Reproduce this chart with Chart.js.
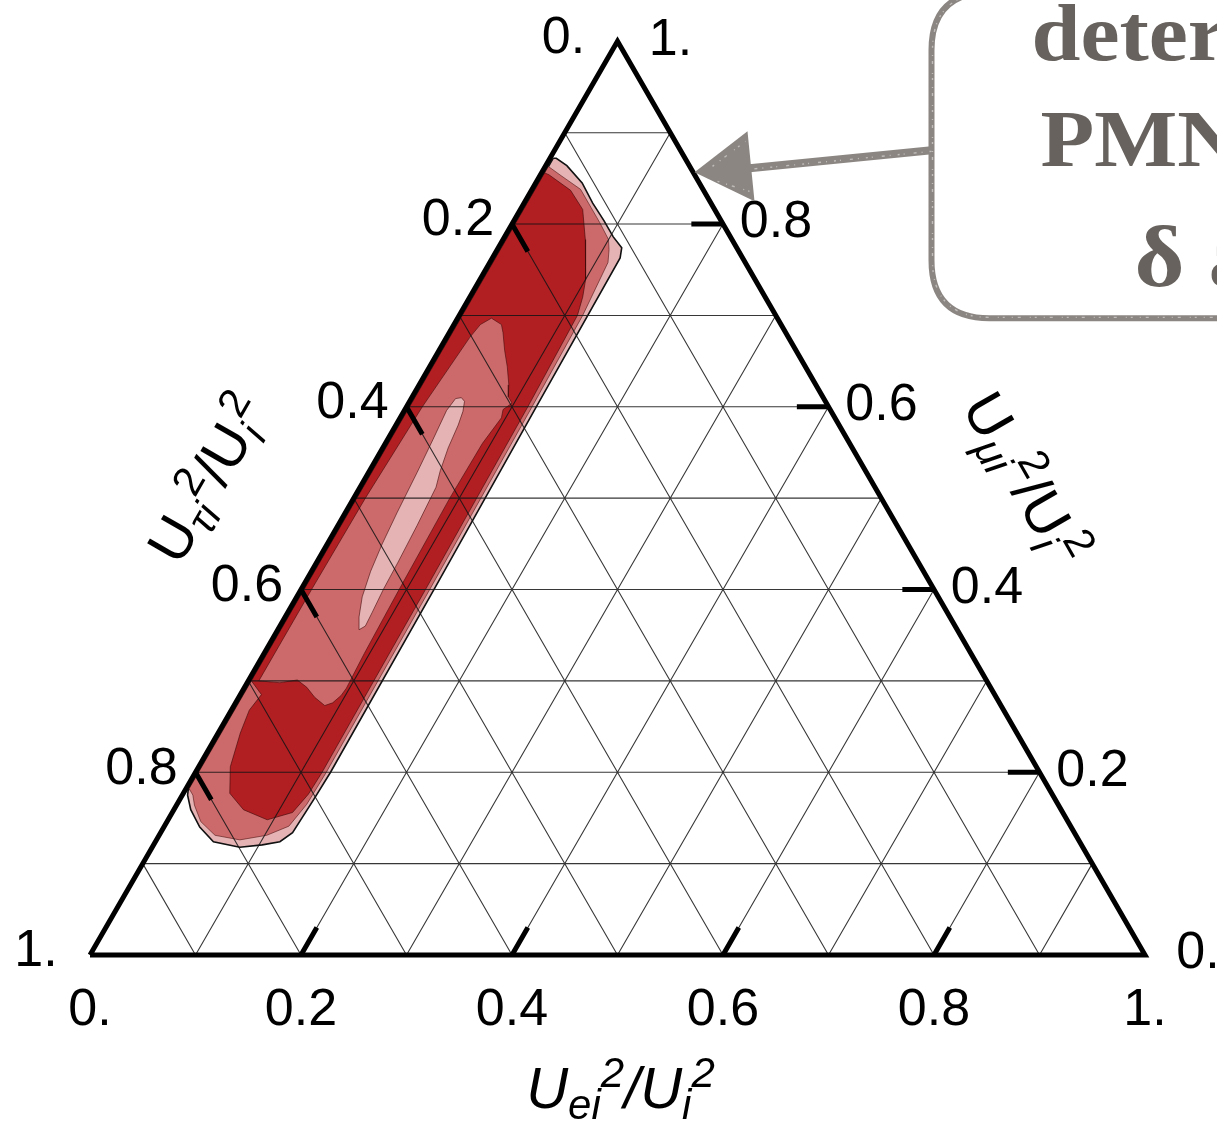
<!DOCTYPE html>
<html>
<head>
<meta charset="utf-8">
<script src="https://cdn.jsdelivr.net/npm/chart.js@4.4.1/dist/chart.umd.min.js"></script>
<style>
  html, body { margin: 0; padding: 0; background: #fff; }
  #wrap { width: 1217px; height: 1124px; }
</style>
</head>
<body>
<div id="wrap"><canvas id="ternary" width="1217" height="1124"></canvas></div>
<script>
// Ternary flavour plot: every point is [Uei^2/Ui^2, Uμi^2/Ui^2], Uτi^2/Ui^2 is the rest.

// --- axes ---
const tickValues = [0, 0.2, 0.4, 0.6, 0.8, 1];
const tickText = ['0.', '0.2', '0.4', '0.6', '0.8', '1.'];
const markedTicks = [0.2, 0.4, 0.6, 0.8];
const gridLevels = [0.1, 0.2, 0.3, 0.4, 0.5, 0.6, 0.7, 0.8, 0.9];
const tickLen = 0.03;

// --- allowed regions (outer band to inner island) ---
const bandLight = [
  [0.003, 0.872], [0.006, 0.872], [0.020, 0.864], [0.044, 0.845], [0.065, 0.823], [0.085, 0.804],
  [0.103, 0.786], [0.117, 0.774], [0.121, 0.763], [0.123, 0.60], [0.126, 0.40], [0.128, 0.20],
  [0.127, 0.170], [0.125, 0.134], [0.118, 0.124], [0.103, 0.1205], [0.083, 0.118], [0.055, 0.124],
  [0.034, 0.140], [0.016, 0.159], [0.005, 0.175], [0.003, 0.18]
];
const bandMid = [
  [0.003, 0.863], [0.020, 0.853], [0.046, 0.838], [0.066, 0.818], [0.083, 0.801], [0.100, 0.783],
  [0.106, 0.772], [0.112, 0.758], [0.117, 0.70], [0.119, 0.60], [0.122, 0.40], [0.124, 0.20],
  [0.123, 0.165], [0.118, 0.141], [0.102, 0.131], [0.079, 0.126], [0.053, 0.131], [0.032, 0.146],
  [0.017, 0.164], [0.010, 0.175], [0.003, 0.182]
];
const bandCore = [
  [0.003, 0.856], [0.008, 0.854], [0.037, 0.837], [0.059, 0.816], [0.078, 0.783], [0.090, 0.760],
  [0.100, 0.739], [0.107, 0.720], [0.112, 0.70], [0.115, 0.60], [0.118, 0.40], [0.120, 0.20],
  [0.119, 0.176], [0.114, 0.156], [0.094, 0.148], [0.066, 0.159], [0.044, 0.177], [0.030, 0.206],
  [0.021, 0.243], [0.017, 0.268], [0.020, 0.285], [0.003, 0.300]
];
const islandMid = [
  [0.032, 0.697], [0.045, 0.690], [0.051, 0.681], [0.062, 0.662], [0.0735, 0.644], [0.085, 0.624],
  [0.091, 0.611], [0.098, 0.604], [0.093, 0.597], [0.096, 0.588], [0.092, 0.560], [0.091, 0.50],
  [0.093, 0.40], [0.095, 0.33], [0.097, 0.292], [0.096, 0.284], [0.092, 0.276], [0.086, 0.273],
  [0.072, 0.282], [0.059, 0.293], [0.046, 0.301], [0.031, 0.298], [0.010, 0.300], [0.010, 0.40],
  [0.011, 0.50], [0.015, 0.60], [0.022, 0.676], [0.025, 0.690]
];
const islandLight = [
  [0.042, 0.609], [0.047, 0.610], [0.052, 0.606], [0.056, 0.595], [0.059, 0.580], [0.062, 0.555],
  [0.067, 0.530], [0.072, 0.512], [0.075, 0.470], [0.077, 0.430], [0.078, 0.400], [0.080, 0.375],
  [0.081, 0.360], [0.077, 0.356], [0.070, 0.370], [0.062, 0.392], [0.056, 0.420], [0.052, 0.450],
  [0.049, 0.484], [0.046, 0.528], [0.043, 0.564], [0.040, 0.596]
];

const pink = '#e5b3b4', rose = '#cc6a6b', crimson = '#b11f23';

const SQ = Math.sqrt(3) / 2;
function tern(p) { return { x: p[0] + p[1] / 2, y: p[1] * SQ }; }

function region(points, color, border, width, order) {
  const data = points.map(tern);
  data.push(data[0]);
  return {
    data, showLine: true, fill: 'shape', backgroundColor: color,
    borderColor: border, borderWidth: width, pointRadius: 0, tension: 0, order
  };
}

function segments(list) {
  const data = [];
  list.forEach(s => { data.push(tern(s[0]), tern(s[1]), { x: null, y: null }); });
  return data;
}

// grid: constant mu, constant e and constant tau lines
const gridSegs = [];
gridLevels.forEach(v => {
  gridSegs.push([[0, v], [1 - v, v]]);
  gridSegs.push([[v, 0], [v, 1 - v]]);
  gridSegs.push([[1 - v, 0], [0, 1 - v]]);
});

const tickSegs = [];
markedTicks.forEach(v => {
  tickSegs.push([[v, 0], [v, tickLen]]);
  tickSegs.push([[0, 1 - v], [tickLen, 1 - v - tickLen]]);
  tickSegs.push([[1 - v, v], [1 - v - tickLen, v]]);
});

const frame = [[0, 0], [1, 0], [0, 1], [0, 0]].map(tern);

function richText(ctx, parts, cx, cy, angle, size) {
  ctx.save();
  ctx.translate(cx, cy);
  ctx.rotate(angle);
  ctx.textAlign = 'left';
  ctx.textBaseline = 'alphabetic';
  let total = 0;
  const widths = parts.map(p => { ctx.font = p.font; const w = ctx.measureText(p.t).width; total += w; return w; });
  let x = -total / 2;
  const base = size * 0.36;
  parts.forEach((p, i) => {
    ctx.font = p.font;
    ctx.fillText(p.t, x, base + p.dy);
    x += widths[i];
  });
  ctx.restore();
}

function wideText(ctx, text, x, y, stretch) {
  ctx.save();
  ctx.translate(x, y);
  ctx.scale(stretch, 1);
  ctx.fillText(text, 0, 0);
  ctx.restore();
}

const overlay = {
  id: 'ternaryText',
  afterDatasetsDraw(chart) {
    const ctx = chart.ctx, sx = chart.scales.x, sy = chart.scales.y;
    const pix = p => { const q = tern(p); return [sx.getPixelForValue(q.x), sy.getPixelForValue(q.y)]; };

    ctx.save();
    ctx.fillStyle = '#000';
    ctx.font = '52px "Liberation Sans", Arial, sans-serif';
    ctx.textAlign = 'center';
    ctx.textBaseline = 'middle';
    tickValues.forEach((v, i) => {
      let p = pix([v, 0]);
      ctx.fillText(tickText[i], p[0], p[1] + 56);
      p = pix([0, 1 - v]);
      ctx.fillText(tickText[i], p[0] - 54, p[1] - 3);
      p = pix([1 - v, v]);
      ctx.fillText(tickText[i], p[0] + 53, p[1] - 1);
    });

    // axis titles
    const big = 58, small = 42;
    const it = s => 'italic ' + s + 'px "Liberation Sans", Arial, sans-serif';
    const up = s => s + 'px "Liberation Sans", Arial, sans-serif';
    const title = (sub, main) => [
      { t: 'U', font: main(big), dy: 0 },
      { t: sub, font: it(small), dy: 11 },
      { t: '2', font: main(small), dy: -21 },
      { t: '/', font: main(big), dy: 0 },
      { t: 'U', font: main(big), dy: 0 },
      { t: 'i', font: it(small), dy: 11 },
      { t: '2', font: main(small), dy: -21 }
    ];
    let m = pix([0.5, 0]);
    richText(ctx, title('ei', it), m[0] + 3, m[1] + 132, 0, big);
    m = pix([0, 0.5]);
    richText(ctx, title('τi', up), m[0] - 147, m[1] - 20, -Math.PI / 3, big);
    m = pix([0.5, 0.5]);
    richText(ctx, title('μi', up), m[0] + 145, m[1] - 20, Math.PI / 3, big);
    ctx.restore();

    // callout box with arrow pointing at the upper corner
    const a = pix([0, 1]);
    const L = a[0] + 314, T = a[1] - 49, B = a[1] + 277, R = a[0] + 700, r = 58;
    ctx.save();
    ctx.strokeStyle = '#8b8682';
    ctx.fillStyle = '#8b8682';
    ctx.lineWidth = 6;
    ctx.lineJoin = 'round';
    ctx.beginPath();
    ctx.moveTo(R, T);
    ctx.lineTo(L + r, T);
    ctx.quadraticCurveTo(L, T, L, T + r);
    ctx.lineTo(L, B - r);
    ctx.quadraticCurveTo(L, B, L + r, B);
    ctx.lineTo(R, B);
    ctx.stroke();
    ctx.lineWidth = 8;
    ctx.beginPath();
    ctx.moveTo(L, a[1] + 109);
    ctx.lineTo(a[0] + 132, a[1] + 127);
    ctx.stroke();
    ctx.beginPath();
    ctx.moveTo(a[0] + 77, a[1] + 131);
    ctx.lineTo(a[0] + 130, a[1] + 90);
    ctx.lineTo(a[0] + 137, a[1] + 160);
    ctx.closePath();
    ctx.fill();
    // chalky speckle on the strokes
    ctx.strokeStyle = 'rgba(255,255,255,0.45)';
    ctx.lineWidth = 1.4;
    ctx.setLineDash([2, 7, 1, 5, 3, 9, 1, 4]);
    ctx.beginPath();
    ctx.moveTo(R, T + 1);
    ctx.lineTo(L + r, T + 1);
    ctx.quadraticCurveTo(L + 1, T + 1, L + 1, T + r);
    ctx.lineTo(L + 1, B - r);
    ctx.quadraticCurveTo(L + 1, B - 1, L + r, B - 1);
    ctx.lineTo(R, B - 1);
    ctx.moveTo(L, a[1] + 110);
    ctx.lineTo(a[0] + 132, a[1] + 128);
    ctx.moveTo(a[0] + 95, a[1] + 125);
    ctx.lineTo(a[0] + 128, a[1] + 100);
    ctx.moveTo(a[0] + 100, a[1] + 140);
    ctx.lineTo(a[0] + 132, a[1] + 150);
    ctx.stroke();
    ctx.setLineDash([]);

    ctx.fillStyle = '#67625d';
    ctx.textAlign = 'left';
    ctx.textBaseline = 'alphabetic';
    ctx.font = 'bold 80px "Liberation Serif", "DejaVu Serif", serif';
    wideText(ctx, 'determine', L + 100, a[1] + 19, 1.1);
    wideText(ctx, 'PMNS', L + 109, a[1] + 125, 1.1);
    ctx.font = 'bold 86px "Liberation Serif", "DejaVu Serif", serif';
    wideText(ctx, 'δ and', L + 203, a[1] + 245, 1.12);
    ctx.restore();
  }
};

new Chart(document.getElementById('ternary'), {
  type: 'scatter',
  data: {
    datasets: [
      region(bandLight, pink, '#111', 1.6, 10),
      region(bandMid, rose, 'rgba(70,10,10,0.55)', 1, 9),
      region(bandCore, crimson, 'rgba(60,5,5,0.6)', 1, 8),
      region(islandMid, rose, 'rgba(70,10,10,0.6)', 1, 7),
      region(islandLight, pink, 'rgba(70,10,10,0.6)', 1, 6),
      { data: segments(gridSegs), showLine: true, spanGaps: false, fill: false, borderColor: 'rgba(20,20,20,0.85)', borderWidth: 1.1, pointRadius: 0, order: 5 },
      { data: frame, showLine: true, fill: false, borderColor: '#000', borderWidth: 5, borderJoinStyle: 'miter', pointRadius: 0, order: 4 },
      { data: segments(tickSegs), showLine: true, spanGaps: false, fill: false, borderColor: '#000', borderWidth: 5, pointRadius: 0, order: 3 }
    ]
  },
  options: {
    responsive: false,
    animation: false,
    events: [],
    layout: { padding: 0 },
    plugins: { legend: { display: false }, tooltip: { enabled: false } },
    scales: {
      x: { type: 'linear', min: -90 / 1055, max: 1127 / 1055, display: false },
      y: { type: 'linear', min: -169 / 1055, max: 955 / 1055, display: false }
    }
  },
  plugins: [overlay]
});
</script>
</body>
</html>
